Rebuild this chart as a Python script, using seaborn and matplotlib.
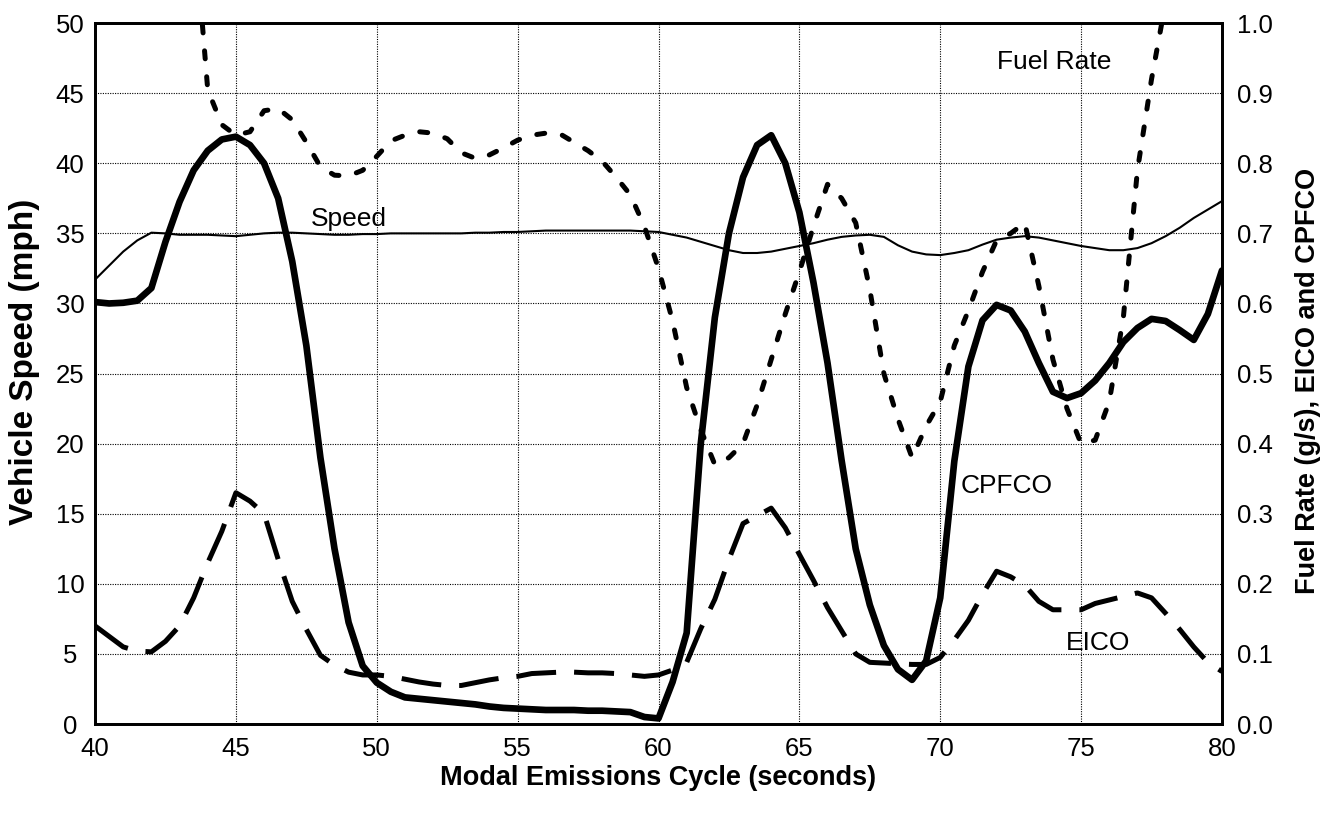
import matplotlib
matplotlib.use("Agg")
import numpy as np
import pandas as pd
import matplotlib.pyplot as plt
import seaborn as sns

# Time stamps of the modal emissions cycle (s), half-second resolution
seconds = [
    40.0, 40.5, 41.0, 41.5, 42.0, 42.5, 43.0, 43.5, 44.0, 44.5,
    45.0, 45.5, 46.0, 46.5, 47.0, 47.5, 48.0, 48.5, 49.0, 49.5,
    50.0, 50.5, 51.0, 51.5, 52.0, 52.5, 53.0, 53.5, 54.0, 54.5,
    55.0, 55.5, 56.0, 56.5, 57.0, 57.5, 58.0, 58.5, 59.0, 59.5,
    60.0, 60.5, 61.0, 61.5, 62.0, 62.5, 63.0, 63.5, 64.0, 64.5,
    65.0, 65.5, 66.0, 66.5, 67.0, 67.5, 68.0, 68.5, 69.0, 69.5,
    70.0, 70.5, 71.0, 71.5, 72.0, 72.5, 73.0, 73.5, 74.0, 74.5,
    75.0, 75.5, 76.0, 76.5, 77.0, 77.5, 78.0, 78.5, 79.0, 79.5,
    80.0,
]

# Vehicle speed (mph), left axis
speed = [
    31.7, 32.7, 33.7, 34.5, 35.05, 35.0, 34.9, 34.9, 34.9, 34.85,
    34.8, 34.9, 35.0, 35.05, 35.05, 35.0, 34.95, 34.9, 34.9, 34.95,
    34.95, 35.0, 35.0, 35.0, 35.0, 35.0, 35.0, 35.05, 35.05, 35.1,
    35.1, 35.15, 35.2, 35.2, 35.2, 35.2, 35.2, 35.2, 35.2, 35.15,
    35.1, 34.9, 34.7, 34.4, 34.1, 33.8, 33.6, 33.6, 33.7, 33.9,
    34.1, 34.3, 34.55, 34.75, 34.85, 34.9, 34.75, 34.15, 33.7, 33.5,
    33.45, 33.6, 33.8, 34.2, 34.55, 34.7, 34.8, 34.7, 34.5, 34.3,
    34.1, 33.95, 33.8, 33.8, 33.95, 34.3, 34.8, 35.4, 36.1, 36.7,
    37.3,
]

# Fuel rate (g/s), right axis; runs off the top of the scale at both ends
fuel_rate = [
    np.nan, np.nan, np.nan, np.nan, np.nan, np.nan, np.nan, 1.15, 0.905, 0.855,
    0.84, 0.845, 0.875, 0.878, 0.862, 0.83, 0.795, 0.783, 0.782, 0.79,
    0.81, 0.832, 0.84, 0.845, 0.843, 0.835, 0.815, 0.807, 0.812, 0.822,
    0.833, 0.84, 0.843, 0.842, 0.83, 0.818, 0.803, 0.78, 0.755, 0.71,
    0.65, 0.575, 0.48, 0.42, 0.37, 0.38, 0.40, 0.455, 0.52, 0.585,
    0.645, 0.71, 0.77, 0.75, 0.715, 0.62, 0.50, 0.435, 0.38, 0.425,
    0.46, 0.54, 0.59, 0.645, 0.69, 0.70, 0.715, 0.625, 0.52, 0.45,
    0.40, 0.405, 0.46, 0.58, 0.79, 0.92, 1.03, np.nan, np.nan, np.nan,
    np.nan,
]

# CPFCO, right axis
cpfco = [
    0.602, 0.600, 0.601, 0.604, 0.622, 0.688, 0.745, 0.79, 0.818, 0.834,
    0.838, 0.826, 0.80, 0.75, 0.66, 0.54, 0.38, 0.25, 0.145, 0.083,
    0.059, 0.046, 0.038, 0.036, 0.034, 0.032, 0.030, 0.028, 0.025, 0.023,
    0.022, 0.021, 0.020, 0.020, 0.020, 0.019, 0.019, 0.018, 0.017, 0.010,
    0.008, 0.06, 0.13, 0.40, 0.58, 0.70, 0.78, 0.826, 0.84, 0.80,
    0.73, 0.63, 0.515, 0.376, 0.25, 0.17, 0.112, 0.078, 0.063, 0.09,
    0.18, 0.375, 0.51, 0.576, 0.598, 0.59, 0.56, 0.515, 0.474, 0.465,
    0.472, 0.49, 0.515, 0.545, 0.565, 0.578, 0.575, 0.562, 0.548, 0.585,
    0.647,
]

# EICO, right axis
eico = [
    0.14, 0.125, 0.11, 0.104, 0.103, 0.118, 0.14, 0.18, 0.23, 0.275,
    0.33, 0.318, 0.30, 0.235, 0.175, 0.135, 0.098, 0.084, 0.074, 0.07,
    0.07, 0.068, 0.064, 0.06, 0.057, 0.055, 0.055, 0.059, 0.063, 0.066,
    0.068, 0.072, 0.073, 0.074, 0.074, 0.073, 0.073, 0.072, 0.07, 0.068,
    0.07, 0.077, 0.088, 0.136, 0.178, 0.235, 0.286, 0.297, 0.308, 0.28,
    0.242, 0.205, 0.166, 0.133, 0.10, 0.088, 0.087, 0.086, 0.085, 0.085,
    0.095, 0.12, 0.148, 0.185, 0.218, 0.21, 0.198, 0.175, 0.163, 0.163,
    0.163, 0.172, 0.177, 0.182, 0.187, 0.18, 0.158, 0.135, 0.11, 0.088,
    0.075,
]

speed_ticks = [0, 5, 10, 15, 20, 25, 30, 35, 40, 45, 50]
rate_ticks = [0.0, 0.1, 0.2, 0.3, 0.4, 0.5, 0.6, 0.7, 0.8, 0.9, 1.0]
time_ticks = [40, 45, 50, 55, 60, 65, 70, 75, 80]

df = pd.DataFrame({
    "seconds": seconds,
    "speed": speed,
    "fuel_rate": fuel_rate,
    "cpfco": cpfco,
    "eico": eico,
})

sns.set_theme(style="white")
plt.rcParams["font.family"] = ["Liberation Sans", "DejaVu Sans"]

fig = plt.figure(figsize=(13.33, 8.25), dpi=100)
ax = fig.add_axes([0.0713, 0.1224, 0.8454, 0.8496])
ax2 = ax.twinx()

ink = "black"

sns.lineplot(data=df, x="seconds", y="speed", ax=ax, color=ink,
             linewidth=1.5, errorbar=None)
sns.lineplot(data=df, x="seconds", y="cpfco", ax=ax2, color=ink,
             linewidth=4.8, errorbar=None, solid_capstyle="round",
             solid_joinstyle="round")
sns.lineplot(data=df.dropna(subset=["fuel_rate"]), x="seconds", y="fuel_rate",
             ax=ax2, color=ink, linewidth=3.6, errorbar=None,
             linestyle=(0, (1.6, 3.6)), dash_capstyle="round")
sns.lineplot(data=df, x="seconds", y="eico", ax=ax2, color=ink,
             linewidth=3.6, errorbar=None, linestyle=(0, (8.0, 3.6)))

ax.set_xlim(40, 80)
ax.set_ylim(0, 50)
ax2.set_ylim(0, 1.0)
ax.set_xticks(time_ticks)
ax.set_yticks(speed_ticks)
ax2.set_yticks(rate_ticks)
ax2.set_yticklabels([f"{v:.1f}" for v in rate_ticks])

ax.grid(True, color=ink, linestyle=(0, (1, 1.2)), linewidth=0.8)
ax2.grid(False)
ax.set_axisbelow(True)

for a in (ax, ax2):
    for side in ("left", "right", "top", "bottom"):
        a.spines[side].set_visible(True)
        a.spines[side].set_color(ink)
        a.spines[side].set_linewidth(2.0)

ax.tick_params(axis="both", length=0, labelsize=18.5, colors=ink)
ax.tick_params(axis="y", pad=18)
ax.tick_params(axis="x", pad=9)
ax2.tick_params(axis="y", length=0, labelsize=18.5, colors=ink, pad=11)
for lab in ax.get_yticklabels():
    lab.set_horizontalalignment("center")

ax.set_xlabel("Modal Emissions Cycle (seconds)", labelpad=3,
              fontsize=19.5, fontweight="bold", color=ink)
ax.set_ylabel("Vehicle Speed (mph)", labelpad=11,
              fontsize=24, fontweight="bold", color=ink)
ax.yaxis.label.set_y(0.516)
ax2.set_ylabel("Fuel Rate (g/s), EICO and CPFCO", labelpad=16,
               fontsize=19.5, fontweight="bold", color=ink)
ax2.yaxis.label.set_y(0.49)

note_font = dict(fontsize=19, color=ink, ha="center", va="center")
ax2.text(49.0, 0.72, "Speed", **note_font)
ax2.text(74.05, 0.945, "Fuel Rate", **note_font)
ax2.text(72.35, 0.34, "CPFCO", **note_font)
ax2.text(75.6, 0.115, "EICO", **note_font)

fig.savefig("out.png", dpi=100)
